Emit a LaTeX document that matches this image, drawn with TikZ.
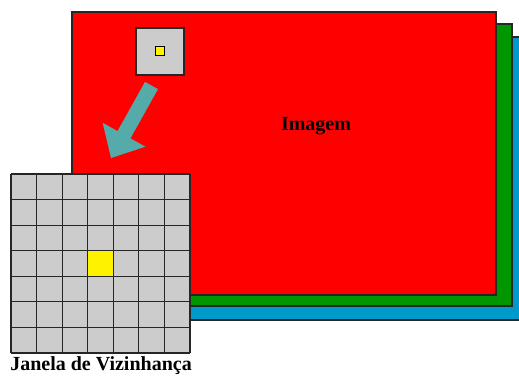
\documentclass[tikz,border=0pt]{standalone}
\usepackage{fontspec}
\setmainfont{Liberation Serif}
\definecolor{imgred}{RGB}{255,0,0}
\definecolor{imggreen}{RGB}{0,150,0}
\definecolor{imgblue}{RGB}{0,153,204}
\definecolor{cellgray}{RGB}{204,204,204}
\definecolor{arrowteal}{RGB}{85,170,170}
\tikzset{
  plane/.style={draw=black!85, line width=1.1pt},
  cellline/.style={draw=black!85, line width=1.1pt},
  lbl/.style={font=\fontsize{20}{22}\selectfont\bfseries, inner sep=0pt},
}
\begin{document}
\begin{tikzpicture}[x=1pt,y=-1pt]
\useasboundingbox (0,0) rectangle (519,375);
% image planes
\fill[imgblue] (92,37) rectangle (530,320);
\draw[plane] (530,37) -- (92,37) (92,320) -- (530,320);
\draw[plane, fill=imggreen] (82,24) rectangle (512,306);
\draw[plane, fill=imgred] (72,12) rectangle (496,295);
\node[lbl] (imagem) at (316,126) {Imagem};
% small window
\draw[plane, fill=cellgray] (136,28) rectangle (184,75);
\draw[draw=black, line width=1pt, fill=yellow] (155.5,46.5) rectangle (164.5,55.5);
% arrow
\fill[arrowteal] (158.0,89.1) -- (130.5,138.3) -- (145.4,146.7) -- (111,158)
  -- (102.6,122.7) -- (117.5,131.1) -- (145.0,81.9) -- cycle;
% neighbourhood grid
\fill[cellgray] (11,174) rectangle (190,353);
\fill[yellow] ({11+3*179/7},{174+3*179/7}) rectangle ({11+4*179/7},{174+4*179/7});
\foreach \i in {0,...,7} {
  \draw[cellline] ({11+\i*179/7},174) -- ({11+\i*179/7},353);
  \draw[cellline] (11,{174+\i*179/7}) -- (190,{174+\i*179/7});
}
\node[lbl] (janela) at (101,366) {Janela de Vizinhança};
\end{tikzpicture}
\end{document}
